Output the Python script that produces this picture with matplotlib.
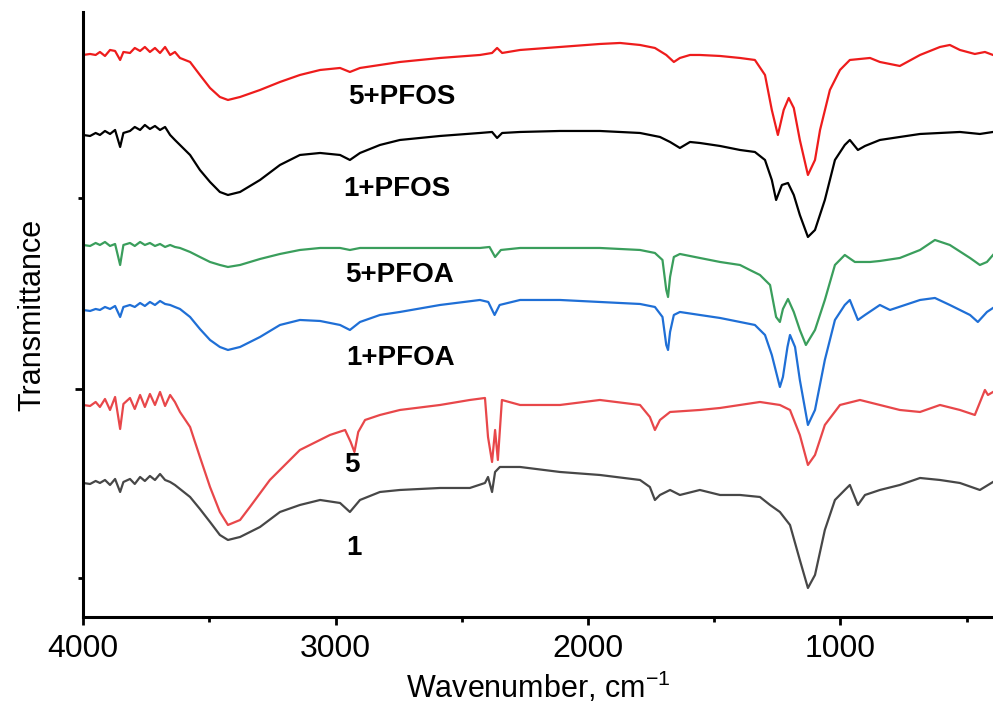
import matplotlib
matplotlib.use('Agg')
import matplotlib.pyplot as plt
from matplotlib.ticker import FixedLocator, NullFormatter

plt.rcParams['font.family'] = ['Liberation Sans', 'DejaVu Sans']
plt.rcParams['mathtext.fontset'] = 'custom'
plt.rcParams['mathtext.rm'] = 'Liberation Sans'

# spectra: wavenumber (cm-1) and offset transmittance (arb. units)
pfos5_wn = [4000, 3972, 3950, 3933, 3913, 3893, 3873, 3853, 3840, 3814, 3795, 3774, 3755, 3735,
            3715, 3695, 3675, 3655, 3636, 3616, 3576, 3537, 3497, 3458, 3426, 3378, 3299, 3220,
            3141, 3061, 2982, 2943, 2903, 2824, 2745, 2586, 2428, 2380, 2360, 2340, 2269, 2111,
            1953, 1873, 1794, 1735, 1690, 1660, 1636, 1596, 1557, 1477, 1398, 1339, 1299, 1272,
            1248, 1225, 1205, 1185, 1161, 1129, 1101, 1081, 1042, 1002, 963, 883, 844, 765, 685,
            606, 567, 527, 468, 428, 396]
pfos5_t = [562, 563, 562, 565, 561, 567, 566, 557, 565, 564, 569, 566, 570, 565,
           569, 564, 570, 562, 565, 559, 555, 542, 529, 520, 517, 520, 527, 535,
           542, 547, 549, 545, 549, 552, 555, 559, 562, 564, 569, 564, 567, 570,
           573, 574, 572, 569, 562, 555, 559, 562, 562, 561, 559, 557, 542, 507,
           482, 507, 519, 509, 477, 442, 457, 487, 527, 547, 557, 559, 555, 551, 562,
           570, 572, 567, 563, 565, 562]

pfos1_wn = [4000, 3972, 3950, 3933, 3913, 3893, 3873, 3853, 3840, 3814, 3795, 3774, 3755, 3735,
            3715, 3695, 3675, 3655, 3636, 3616, 3576, 3537, 3497, 3458, 3426, 3378, 3299, 3220,
            3141, 3061, 2982, 2943, 2903, 2824, 2745, 2586, 2428, 2380, 2360, 2340, 2269, 2111,
            1953, 1794, 1715, 1675, 1636, 1596, 1557, 1477, 1398, 1339, 1299, 1272, 1255, 1232,
            1208, 1185, 1161, 1129, 1101, 1062, 1022, 983, 963, 931, 903, 844, 765, 685, 606,
            527, 448, 396]
pfos1_t = [482, 481, 484, 482, 486, 483, 487, 470, 484, 486, 490, 487, 492, 488,
           491, 487, 490, 482, 477, 472, 462, 447, 435, 425, 422, 425, 437, 452,
           462, 464, 462, 457, 464, 472, 477, 481, 484, 485, 479, 484, 485, 486,
           486, 484, 480, 475, 469, 475, 474, 471, 467, 465, 457, 437, 417, 432,
           434, 422, 402, 380, 387, 417, 457, 472, 477, 467, 471, 477, 480, 483, 484,
           485, 483, 485]

pfoa5_wn = [4000, 3972, 3950, 3933, 3913, 3893, 3873, 3853, 3840, 3814, 3795, 3774, 3755, 3735,
            3715, 3695, 3675, 3655, 3636, 3616, 3576, 3537, 3497, 3458, 3426, 3378, 3299, 3220,
            3141, 3061, 2982, 2943, 2903, 2824, 2745, 2586, 2428, 2390, 2368, 2345, 2269, 2111,
            1953, 1794, 1735, 1705, 1690, 1683, 1675, 1660, 1636, 1557, 1477, 1398, 1359, 1319,
            1279, 1255, 1240, 1228, 1208, 1185, 1161, 1137, 1101, 1062, 1022, 983, 943, 883,
            844, 765, 685, 626, 567, 487, 448, 420, 396]
pfoa5_t = [372, 371, 374, 372, 375, 371, 373, 352, 372, 374, 371, 375, 372, 374,
           371, 373, 370, 372, 370, 369, 365, 360, 355, 352, 350, 352, 358, 363,
           367, 369, 369, 367, 369, 369, 369, 369, 369, 370, 360, 367, 369, 369,
           369, 367, 364, 357, 327, 320, 340, 360, 363, 359, 355, 352, 347, 342,
           332, 300, 295, 308, 318, 305, 287, 272, 287, 317, 352, 362, 355, 355,
           356, 359, 367, 377, 372, 359, 352, 355, 362]

pfoa1_wn = [4000, 3972, 3950, 3933, 3913, 3893, 3873, 3853, 3840, 3814, 3795, 3774, 3755, 3735,
            3715, 3695, 3675, 3655, 3636, 3616, 3576, 3537, 3497, 3458, 3426, 3378, 3299, 3220,
            3141, 3061, 2982, 2943, 2903, 2824, 2745, 2586, 2428, 2395, 2370, 2350, 2269, 2111,
            1953, 1794, 1735, 1705, 1690, 1683, 1675, 1660, 1636, 1557, 1477, 1398, 1339, 1299,
            1272, 1240, 1228, 1210, 1200, 1180, 1161, 1129, 1101, 1062, 1022, 983, 963, 931,
            903, 844, 804, 685, 626, 567, 487, 456, 420, 396]
pfoa1_t = [307, 306, 308, 307, 310, 308, 311, 300, 310, 312, 310, 314, 311, 315,
           312, 316, 313, 312, 310, 308, 300, 288, 277, 270, 267, 270, 280, 292,
           297, 296, 292, 287, 295, 302, 305, 312, 317, 315, 302, 312, 317, 317,
           315, 313, 310, 300, 272, 267, 285, 302, 305, 302, 299, 295, 292, 282,
           262, 230, 240, 270, 282, 270, 237, 192, 207, 257, 297, 312, 317, 297,
           302, 312, 307, 317, 319, 312, 302, 295, 305, 309]

s5_wn = [4000, 3972, 3950, 3933, 3913, 3893, 3873, 3853, 3840, 3814, 3795, 3774, 3755, 3735,
         3715, 3695, 3675, 3655, 3636, 3616, 3576, 3537, 3497, 3458, 3426, 3378, 3339, 3260,
         3141, 3022, 2962, 2940, 2925, 2910, 2883, 2824, 2745, 2586, 2468, 2408, 2396, 2380,
         2368, 2357, 2341, 2269, 2111, 1953, 1794, 1755, 1735, 1715, 1675, 1557, 1477, 1398,
         1319, 1240, 1200, 1161, 1129, 1101, 1062, 1002, 923, 844, 765, 685, 606, 527, 468,
         428, 416, 396]
s5_t = [212, 211, 215, 210, 218, 207, 220, 188, 213, 219, 208, 222, 210, 223,
        212, 225, 211, 222, 215, 205, 190, 160, 130, 105, 92, 97, 110, 137,
        167, 182, 187, 175, 165, 185, 197, 202, 207, 212, 217, 219, 180, 155,
        187, 157, 217, 212, 212, 217, 212, 200, 187, 197, 205, 207, 209, 212,
        215, 212, 207, 182, 152, 162, 192, 212, 217, 212, 207, 205, 212, 207, 202,
        227, 222, 225]

s1_wn = [4000, 3972, 3950, 3933, 3913, 3893, 3873, 3853, 3840, 3814, 3795, 3774, 3755, 3735,
         3715, 3695, 3675, 3655, 3636, 3616, 3576, 3537, 3497, 3458, 3426, 3378, 3299, 3220,
         3141, 3061, 2982, 2943, 2903, 2824, 2745, 2586, 2468, 2408, 2396, 2380, 2368, 2349,
         2269, 2111, 1953, 1794, 1755, 1735, 1715, 1675, 1636, 1557, 1477, 1398, 1319, 1279,
         1240, 1200, 1161, 1129, 1101, 1062, 1022, 983, 963, 931, 903, 844, 765, 685, 606,
         527, 448, 396]
s1_t = [134, 133, 136, 134, 137, 132, 138, 125, 135, 138, 133, 140, 136, 141,
        137, 143, 137, 135, 132, 128, 120, 108, 95, 82, 77, 80, 90, 105,
        112, 117, 114, 105, 117, 125, 127, 129, 129, 134, 140, 125, 145, 150,
        150, 145, 142, 137, 130, 117, 122, 127, 122, 127, 122, 122, 120, 112,
        105, 92, 57, 29, 42, 87, 117, 127, 132, 112, 122, 127, 132, 139, 137,
        134, 127, 135]

labels = ['5+PFOS', '1+PFOS', '5+PFOA', '1+PFOA', '5', '1']
colors = ['#ee1c1c', '#000000', '#3a9e5c', '#1f6fd6', '#e8474a', '#474747']
label_wn = [2737, 2756, 2745, 2741, 2935, 2927]
label_t = [520, 428, 342, 259, 152, 69]

spectra = [(pfos5_wn, pfos5_t), (pfos1_wn, pfos1_t), (pfoa5_wn, pfoa5_t),
           (pfoa1_wn, pfoa1_t), (s5_wn, s5_t), (s1_wn, s1_t)]

fig = plt.figure(figsize=(9.93, 7.17), dpi=100)
ax = fig.add_axes([0.0836, 0.1395, 0.9164, 0.8438])

for (wn, t), c in zip(spectra, colors):
    ax.plot(wn, t, color=c, lw=1.6)

for name, x, y in zip(labels, label_wn, label_t):
    ax.text(x, y, name, ha='center', va='center', fontsize=20, fontweight='bold')

ax.set_xlim(4000, 396)
ax.set_ylim(0, 605)

ax.xaxis.set_major_locator(FixedLocator([4000, 3000, 2000, 1000]))
ax.xaxis.set_minor_locator(FixedLocator([3500, 2500, 1500, 500]))
ax.yaxis.set_major_locator(FixedLocator([228]))
ax.yaxis.set_minor_locator(FixedLocator([39, 419]))
ax.yaxis.set_major_formatter(NullFormatter())

for side in ['top', 'right']:
    ax.spines[side].set_visible(False)
for side in ['left', 'bottom']:
    ax.spines[side].set_linewidth(2.2)

ax.tick_params(which='major', length=6, width=2, labelsize=23, pad=6)
ax.tick_params(which='minor', length=3.5, width=2)

ax.set_xlabel('Wavenumber, cm$^{\\mathregular{-1}}$', fontsize=22, labelpad=4)
ax.set_ylabel('Transmittance', fontsize=22, labelpad=14)

fig.savefig('out.png', dpi=100)
